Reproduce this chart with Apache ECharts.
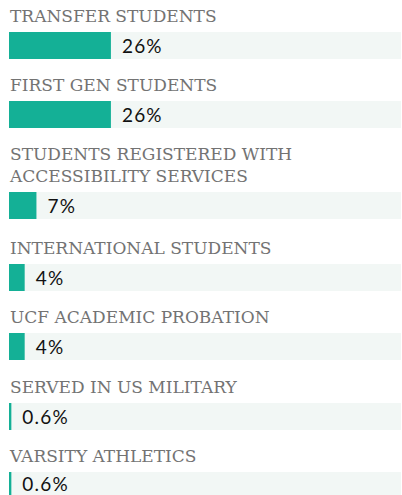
<!DOCTYPE html>
<html>
<head>
<meta charset="utf-8">
<script src="https://cdn.jsdelivr.net/npm/echarts@6/dist/echarts.min.js"></script>
<style>
  html, body { margin: 0; padding: 0; background: #fff; }
  #main { width: 402px; height: 495px; }
</style>
</head>
<body>
<div id="main"></div>
<script>
"use strict";
// 数据
var categories = [
    'TRANSFER STUDENTS',
    'FIRST GEN STUDENTS',
    'STUDENTS REGISTERED WITH\nACCESSIBILITY SERVICES',
    'INTERNATIONAL STUDENTS',
    'UCF ACADEMIC PROBATION',
    'SERVED IN US MILITARY',
    'VARSITY ATHLETICS'
];
var values = [26, 26, 7, 4, 4, 0.6, 0.6];

// 每一行的条形顶部位置（布局）
var rowTops = [32, 101, 192, 264, 333, 403, 472];

var myChart = echarts.init(document.getElementById('main'), null, { renderer: 'svg' });

var grids = [], xAxes = [], yAxes = [], series = [];
for (var i = 0; i < categories.length; i++) {
    grids.push({ left: 9, width: 392, top: rowTops[i], height: 27 });
    xAxes.push({ gridIndex: i, type: 'value', min: 0, max: 100, show: false });
    yAxes.push({
        gridIndex: i,
        type: 'category',
        data: [categories[i]],
        axisLine: { show: false },
        axisTick: { show: false },
        axisLabel: { show: false },
        splitLine: { show: false },
        name: categories[i],
        nameLocation: 'end',
        nameGap: 5,
        nameTextStyle: {
            align: 'left',
            verticalAlign: 'bottom',
            color: '#737373',
            fontFamily: 'DejaVu Serif',
            fontSize: 17,
            lineHeight: 22,
            padding: [0, 0, 0, 1]
        }
    });
    series.push({
        type: 'bar',
        xAxisIndex: i,
        yAxisIndex: i,
        data: [values[i]],
        barWidth: '100%',
        showBackground: true,
        backgroundStyle: { color: '#f2f7f5' },
        itemStyle: { color: '#14b096' },
        label: {
            show: true,
            position: 'right',
            distance: 11,
            formatter: '{c}%',
            color: '#111',
            fontFamily: 'Lato',
            fontSize: 19
        },
        silent: true
    });
}

var option = {
    animation: false,
    backgroundColor: '#fff',
    grid: grids,
    xAxis: xAxes,
    yAxis: yAxes,
    series: series
};
myChart.setOption(option);

// 数值标签字间距（svg 文本）
var lines = [];
categories.forEach(function(c) { lines = lines.concat(c.split('\n')); });
function spacing() {
    var texts = document.querySelectorAll('#main text');
    for (var k = 0; k < texts.length; k++) {
        if (lines.indexOf(texts[k].textContent) < 0) {
            texts[k].style.letterSpacing = '1.2px';
        }
    }
}
spacing();
myChart.on('finished', spacing);
</script>
</body>
</html>
